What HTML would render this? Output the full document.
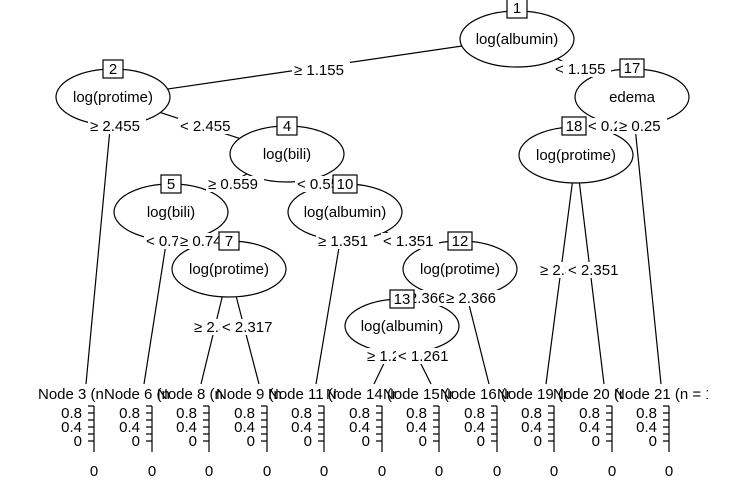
<!DOCTYPE html>
<html><head><meta charset="utf-8"><style>
html,body{margin:0;padding:0;background:#fff;}
svg{display:block;font-family:"Liberation Sans","DejaVu Sans",sans-serif;}
</style></head><body>
<svg width="736" height="502" viewBox="0 0 736 502" xmlns="http://www.w3.org/2000/svg">
<defs>
<g id="ax">
<line x1="0" y1="406" x2="0" y2="452" stroke="#000" stroke-width="1.2"/>
<path d="M-6 406H0M-6 413H0M-6 420H0M-6 427H0M-6 434H0M-6 441H0" stroke="#000" stroke-width="1.2"/>
<text x="-12" y="418" text-anchor="end" font-size="15">0.8</text>
<text x="-12" y="432" text-anchor="end" font-size="15">0.4</text>
<text x="-12" y="446" text-anchor="end" font-size="15">0</text>
<text x="0" y="476" text-anchor="middle" font-size="15">0</text>
</g>
</defs>
<rect width="736" height="502" fill="#fff"/>
<g stroke="#000" stroke-width="1.2" fill="none">
<line x1="517" y1="38" x2="113" y2="97"/>
<line x1="517" y1="38" x2="632" y2="97"/>
<line x1="113" y1="97" x2="86" y2="384"/>
<line x1="113" y1="97" x2="287" y2="154"/>
<line x1="287" y1="154" x2="171" y2="212"/>
<line x1="287" y1="154" x2="345" y2="212"/>
<line x1="171" y1="212" x2="144" y2="384"/>
<line x1="171" y1="212" x2="229" y2="269"/>
<line x1="229" y1="269" x2="201" y2="384"/>
<line x1="229" y1="269" x2="259" y2="384"/>
<line x1="345" y1="212" x2="316" y2="384"/>
<line x1="345" y1="212" x2="460" y2="269"/>
<line x1="460" y1="269" x2="402" y2="326"/>
<line x1="460" y1="269" x2="489" y2="384"/>
<line x1="402" y1="326" x2="374" y2="384"/>
<line x1="402" y1="326" x2="431" y2="384"/>
<line x1="632" y1="97" x2="576" y2="155"/>
<line x1="632" y1="97" x2="661" y2="384"/>
<line x1="576" y1="155" x2="546" y2="384"/>
<line x1="576" y1="155" x2="604" y2="384"/>
</g>
<g stroke="#000" stroke-width="1.2" fill="#fff">
<ellipse cx="517" cy="39" rx="57" ry="28"/>
<ellipse cx="113" cy="97" rx="57" ry="28"/>
<ellipse cx="287" cy="154" rx="57" ry="28"/>
<ellipse cx="171" cy="212" rx="57" ry="28"/>
<ellipse cx="345" cy="212" rx="57" ry="28"/>
<ellipse cx="229" cy="269" rx="57" ry="28"/>
<ellipse cx="460" cy="269" rx="57" ry="28"/>
<ellipse cx="402" cy="326" rx="57" ry="27"/>
<ellipse cx="632" cy="97" rx="57" ry="28"/>
<ellipse cx="576" cy="155" rx="57" ry="28"/>
</g>
<g font-size="15" text-anchor="middle" fill="#000">
<text x="517" y="44">log(albumin)</text>
<text x="113" y="102">log(protime)</text>
<text x="287" y="159">log(bili)</text>
<text x="171" y="217">log(bili)</text>
<text x="345" y="217">log(albumin)</text>
<text x="229" y="274">log(protime)</text>
<text x="460" y="274">log(protime)</text>
<text x="402" y="331">log(albumin)</text>
<text x="632" y="102">edema</text>
<text x="576" y="160">log(protime)</text>
</g>
<g font-size="15" fill="#000">
<rect x="292" y="62" width="58" height="16" fill="#fff"/><text x="294" y="75">≥ 1.155</text>
<rect x="553" y="61" width="58" height="16" fill="#fff"/><text x="555" y="74">&lt; 1.155</text>
<rect x="88" y="118" width="58" height="16" fill="#fff"/><text x="90" y="131">≥ 2.455</text>
<rect x="178" y="118" width="58" height="16" fill="#fff"/><text x="180" y="131">&lt; 2.455</text>
<rect x="206" y="176" width="58" height="16" fill="#fff"/><text x="208" y="189">≥ 0.559</text>
<rect x="295" y="176" width="58" height="16" fill="#fff"/><text x="297" y="189">&lt; 0.559</text>
<rect x="144" y="233" width="58" height="16" fill="#fff"/><text x="146" y="246">&lt; 0.74</text>
<rect x="178" y="233" width="58" height="16" fill="#fff"/><text x="180" y="246">≥ 0.74</text>
<rect x="316" y="233" width="58" height="16" fill="#fff"/><text x="318" y="246">≥ 1.351</text>
<rect x="381" y="233" width="58" height="16" fill="#fff"/><text x="383" y="246">&lt; 1.351</text>
<rect x="394" y="290" width="58" height="16" fill="#fff"/><text x="396" y="303">&lt; 2.366</text>
<rect x="444" y="290" width="58" height="16" fill="#fff"/><text x="446" y="303">≥ 2.366</text>
<rect x="192" y="319" width="58" height="16" fill="#fff"/><text x="194" y="332">≥ 2.317</text>
<rect x="220" y="319" width="58" height="16" fill="#fff"/><text x="222" y="332">&lt; 2.317</text>
<rect x="365" y="348" width="58" height="16" fill="#fff"/><text x="367" y="361">≥ 1.261</text>
<rect x="396" y="348" width="58" height="16" fill="#fff"/><text x="398" y="361">&lt; 1.261</text>
<rect x="586" y="118" width="50" height="16" fill="#fff"/><text x="588" y="131">&lt; 0.25</text>
<rect x="617" y="118" width="50" height="16" fill="#fff"/><text x="619" y="131">≥ 0.25</text>
<rect x="538" y="262" width="58" height="16" fill="#fff"/><text x="540" y="275">≥ 2.351</text>
<rect x="566" y="262" width="58" height="16" fill="#fff"/><text x="568" y="275">&lt; 2.351</text>
</g>
<g font-size="15" text-anchor="middle">
<rect x="507" y="-3" width="20" height="21" fill="#fff" stroke="#000" stroke-width="1.2"/><text x="517" y="13">1</text>
<rect x="103" y="60" width="20" height="18" fill="#fff" stroke="#000" stroke-width="1.2"/><text x="113" y="74">2</text>
<rect x="277" y="117" width="20" height="18" fill="#fff" stroke="#000" stroke-width="1.2"/><text x="287" y="131">4</text>
<rect x="161" y="175" width="20" height="18" fill="#fff" stroke="#000" stroke-width="1.2"/><text x="171" y="189">5</text>
<rect x="333" y="175" width="24" height="18" fill="#fff" stroke="#000" stroke-width="1.2"/><text x="345" y="189">10</text>
<rect x="219" y="232" width="20" height="18" fill="#fff" stroke="#000" stroke-width="1.2"/><text x="229" y="246">7</text>
<rect x="448" y="232" width="24" height="18" fill="#fff" stroke="#000" stroke-width="1.2"/><text x="460" y="246">12</text>
<rect x="390" y="290" width="24" height="18" fill="#fff" stroke="#000" stroke-width="1.2"/><text x="402" y="304">13</text>
<rect x="620" y="59" width="24" height="18" fill="#fff" stroke="#000" stroke-width="1.2"/><text x="632" y="73">17</text>
<rect x="562" y="117" width="24" height="18" fill="#fff" stroke="#000" stroke-width="1.2"/><text x="574" y="131">18</text>
</g>
<g font-size="15" fill="#000">
<svg x="38" y="384" width="70" height="20"><text x="0" y="15">Node 3 (n = 25)</text></svg>
<svg x="104" y="384" width="70" height="20"><text x="0" y="15">Node 6 (n = 12)</text></svg>
<svg x="157" y="384" width="70" height="20"><text x="0" y="15">Node 8 (n = 30)</text></svg>
<svg x="216" y="384" width="70" height="20"><text x="0" y="15">Node 9 (n = 18)</text></svg>
<svg x="268" y="384" width="70" height="20"><text x="0" y="15">Node 11 (n = 20)</text></svg>
<svg x="326" y="384" width="70" height="20"><text x="0" y="15">Node 14 (n = 15)</text></svg>
<svg x="383" y="384" width="70" height="20"><text x="0" y="15">Node 15 (n = 22)</text></svg>
<svg x="440" y="384" width="70" height="20"><text x="0" y="15">Node 16 (n = 19)</text></svg>
<svg x="497" y="384" width="70" height="20"><text x="0" y="15">Node 19 (n = 27)</text></svg>
<svg x="553" y="384" width="70" height="20"><text x="0" y="15">Node 20 (n = 14)</text></svg>
<svg x="614" y="384" width="94" height="20"><text x="0" y="15">Node 21 (n = 10)</text></svg>
</g>
<use href="#ax" x="94"/>
<use href="#ax" x="152"/>
<use href="#ax" x="209"/>
<use href="#ax" x="267"/>
<use href="#ax" x="324"/>
<use href="#ax" x="382"/>
<use href="#ax" x="439"/>
<use href="#ax" x="497"/>
<use href="#ax" x="554"/>
<use href="#ax" x="612"/>
<use href="#ax" x="669"/>
</svg>
</body></html>
